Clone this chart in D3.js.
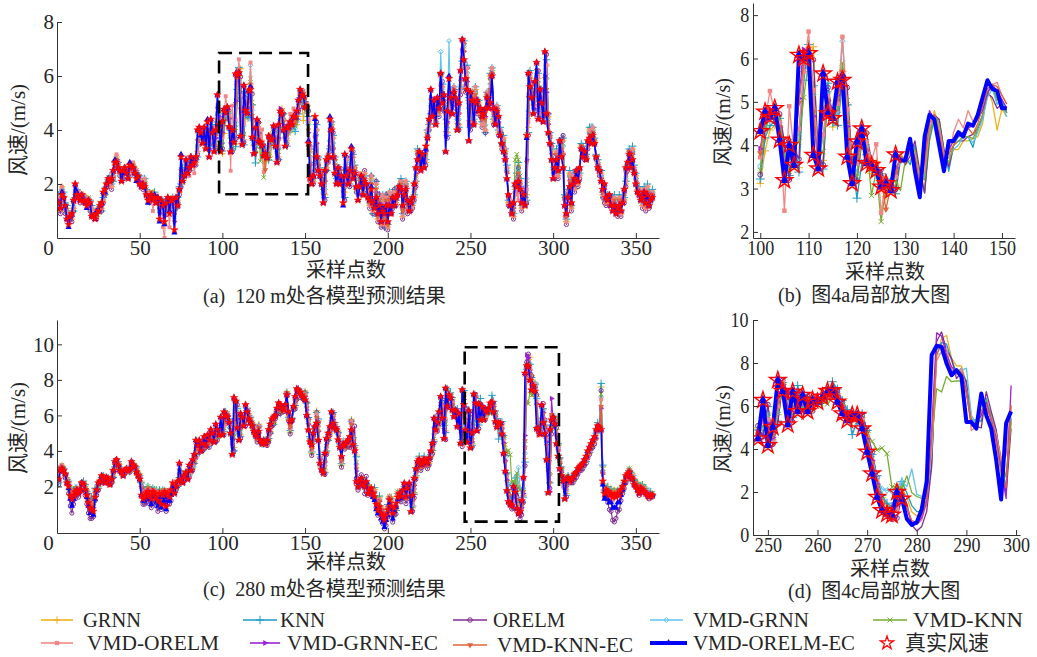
<!DOCTYPE html>
<html>
<head>
<meta charset="utf-8">
<script src="https://cdn.jsdelivr.net/npm/d3@7"></script>
<style>
  body { margin: 0; background: #fff; }
  svg text { font-family: "Liberation Serif", "Times New Roman", "Noto Sans CJK SC", serif; fill: #262626; }
  .sq { transform-box: fill-box; transform-origin: center; transform: scaleX(0.86); }
</style>
</head>
<body>
<script>
// ---- measured wind speed (m/s), samples 1..360 ----
var speed120 = [
1.3,1.1,1.6,1.5,1.2,0.7,0.5,0.8,0.9,1.4,
2.0,1.6,1.5,1.4,1.6,1.4,1.3,1.2,1.4,1.3,
0.8,0.8,0.7,0.9,1.0,1.2,1.3,1.7,1.8,2.0,
2.2,2.1,2.2,2.5,2.8,2.8,2.6,2.5,2.1,2.5,
2.6,2.4,2.2,2.7,2.6,2.6,2.4,2.2,2.3,2.0,
1.9,2.0,1.9,1.6,1.4,1.5,1.6,1.4,1.5,1.3,
1.5,0.7,1.4,1.2,0.6,1.3,1.5,0.9,1.4,1.4,
0.3,1.5,1.2,1.8,3.0,2.1,2.3,2.9,2.4,2.6,
3.0,2.7,2.8,3.0,4.0,4.1,3.9,3.5,4.1,3.3,
4.3,3.0,4.4,3.9,3.2,4.0,5.3,4.2,3.2,4.32,
4.77,4.65,4.85,4.12,3.19,4.0,3.54,6.08,6.0,6.12,
3.77,3.46,5.65,4.73,4.62,5.46,5.5,3.73,3.12,4.08,
4.38,3.58,3.54,3.42,3.04,3.12,2.96,3.78,3.65,3.65,
4.15,3.4,2.8,4.2,4.7,4.6,4.0,3.4,4.1,4.1,
4.3,4.2,4.5,4.45,4.7,5.1,5.5,5.3,5.25,4.85,
4.85,3.5,2.2,2.0,2.3,4.5,3.0,2.5,2.3,2.0,
1.3,2.5,2.9,3.0,4.4,4.0,3.0,2.4,2.0,2.6,
2.0,2.3,1.3,3.1,2.3,2.0,2.5,3.3,2.2,2.4,
1.9,1.4,1.9,2.3,1.6,2.1,2.0,1.5,1.4,1.8,
1.3,1.1,1.5,0.9,1.2,0.6,1.0,0.9,1.2,0.6,
1.2,0.9,1.5,1.2,1.5,1.6,1.9,1.8,1.2,1.6,
1.8,1.4,1.0,1.3,1.5,2.0,2.6,2.9,3.2,2.5,
3.1,2.6,3.4,3.7,4.4,5.5,4.5,5.1,4.2,5.2,
4.8,6.1,5.0,5.3,3.2,4.7,5.9,5.2,4.6,5.4,
5.2,4.0,5.0,6.2,7.35,6.6,5.9,5.5,3.6,5.4,
5.1,4.2,5.0,5.1,4.7,4.8,4.5,4.6,4.8,5.2,
4.8,5.0,6.0,4.8,4.2,4.7,4.5,3.8,3.5,3.2,
2.9,2.2,1.6,1.2,0.9,1.3,2.0,1.9,2.1,1.8,
1.3,1.6,1.2,3.8,6.1,5.6,5.2,4.6,5.8,6.5,
4.4,5.5,5.0,4.3,6.9,4.6,3.9,3.5,2.9,2.2,
2.6,2.9,2.5,3.6,3.0,2.6,1.2,0.9,1.5,1.9,
1.3,2.0,2.2,2.5,2.1,2.6,3.3,3.0,3.2,2.9,
3.6,3.7,3.5,3.8,3.5,3.0,2.6,2.5,2.1,1.8,
2.0,1.5,1.4,1.6,1.2,1.0,1.2,0.9,1.1,1.2,
1.0,1.3,1.8,2.6,2.8,3.1,2.6,2.9,2.4,2.0,
1.7,1.6,1.4,1.5,1.7,1.3,1.6,1.2,1.4,1.5];

var speed280 = [
2.4,2.9,3.0,2.9,2.7,2.2,2.0,1.5,1.3,1.5,
1.7,1.8,1.6,1.8,2.2,2.1,1.8,1.5,1.1,0.8,
0.7,0.6,1.4,1.8,2.2,2.3,2.6,2.5,2.2,2.5,
2.4,2.1,2.4,2.9,3.4,3.5,3.2,2.9,2.8,2.6,
2.9,3.0,2.9,3.0,3.4,3.2,3.1,2.8,2.6,2.4,
1.5,1.3,1.4,1.6,1.7,1.5,1.3,1.7,1.6,1.4,
1.2,1.6,1.0,1.5,1.7,0.9,1.6,1.4,1.8,2.2,
1.6,2.0,2.3,3.3,2.4,2.2,2.6,2.8,2.4,3.2,
2.9,3.5,3.8,4.6,4.3,4.6,4.0,4.4,4.8,4.3,
4.9,4.6,5.2,5.0,4.5,5.5,5.2,4.9,5.9,4.9,
6.2,6.0,5.9,5.6,5.0,3.8,7.0,6.8,5.3,4.6,
6.1,5.9,5.4,6.6,6.2,5.8,5.6,5.4,5.1,4.9,
4.8,5.1,4.6,4.4,4.6,4.4,4.6,5.2,5.5,5.8,
5.9,6.0,6.4,6.7,6.6,6.4,6.3,6.6,7.15,6.2,
5.65,5.75,6.5,7.06,7.5,7.4,7.3,7.15,7.0,6.87,
6.0,5.18,4.5,4.34,5.0,5.37,5.56,4.6,3.3,2.93,
2.74,3.87,4.7,5.0,5.37,6.2,5.56,5.3,5.18,4.62,
4.2,3.68,4.34,4.3,4.5,4.62,4.8,5.18,4.34,4.0,
2.27,1.99,2.3,2.46,2.1,1.99,2.27,1.6,1.8,1.9,
1.6,1.43,1.0,0.68,0.86,0.5,0.3,0.11,0.4,0.68,
1.24,0.9,0.49,0.8,1.05,1.4,1.6,1.43,1.8,2.18,
1.43,1.9,2.18,0.58,1.5,2.46,3.0,3.4,3.5,3.2,
3.3,3.5,3.4,3.3,3.6,4.0,4.43,5.84,5.18,5.6,
6.2,7.06,5.84,4.7,7.53,6.5,7.15,6.97,6.3,5.93,
6.3,5.37,6.1,4.43,7.44,6.6,5.18,4.48,6.27,4.17,
5.02,7.2,6.69,5.13,6.66,5.75,6.5,5.75,6.27,6.19,
6.42,6.69,6.73,6.19,5.65,5.33,5.57,5.57,4.95,3.86,
2.85,1.76,1.14,0.98,0.93,1.99,1.68,0.75,0.47,0.59,
1.2,2.5,8.37,8.8,8.75,7.98,7.43,7.67,7.36,5.26,
5.26,4.95,6.58,5.57,4.95,3.5,1.65,5.2,5.75,5.9,
5.5,4.4,3.7,3.0,2.6,2.3,1.3,2.4,2.5,2.3,
2.4,2.5,2.7,2.8,3.0,3.1,3.2,3.3,3.5,3.7,
4.0,4.2,4.4,4.6,4.8,5.2,5.4,5.3,5.2,2.3,
1.6,1.8,1.7,1.5,1.6,1.4,1.5,1.4,1.6,1.5,
1.8,2.0,2.3,2.6,2.7,2.8,2.5,2.4,2.1,2.0,
1.8,1.6,1.9,1.8,1.7,1.6,1.5,1.4,1.5,1.5];

// ---- model prediction errors (0.1 m/s), samples 1..360 ----
var grnn120 = [
2,-1,3,0,-2,4,3,1,-2,-3,-4,1,2,0,-1,2,1,3,0,-2,2,1,3,-1,1,0,-2,-3,-1,0,
-2,1,-3,-2,-1,2,1,-1,3,-2,-1,2,3,-2,0,1,2,3,-1,2,1,-1,2,1,2,-1,0,3,1,2,
-1,5,-2,1,4,-1,-2,3,-1,0,7,-3,2,-1,-9,4,1,-3,2,0,-1,1,0,-2,-8,-2,0,3,-4,5,
-6,6,-8,2,4,-6,-9,5,6,
-12,-9,-3,-4,3,5,-7,3,-26,-3,-1,25,1,-20,5,-2,-8,2,12,3,-9,-3,7,-2,2,1,-3,1,-7,2,
-1,-5,5,6,-12,-6,2,4,3,-5,-2,-4,-1,-4,-3,-5,-6,-2,-3,-9,0,-2,
8,10,2,-2,-15,10,4,2,3,5,-9,-3,-1,-10,2,7,5,3,-4,5,-2,8,-14,6,3,-4,-7,8,2,-1,
4,4,-3,0,3,-1,1,-2,4,-3,2,5,-2,3,-1,5,-4,3,-2,4,1,-3,5,-2,2,-1,3,-4,-2,2,
-4,3,-2,-3,-5,-6,3,-4,2,-2,4,-6,2,-3,-8,3,-5,2,-3,-2,-1,6,-4,15,-8,-12,-4,7,1,-3,
5,-8,-8,-9,6,-4,8,15,-12,2,1,5,-4,3,-2,-3,-2,-8,1,4,10,2,-5,2,1,-6,2,-1,5,3,
4,-3,1,2,-5,-2,4,6,3,-2,1,2,-22,-20,4,4,5,-9,-6,15,-9,4,6,-22,18,6,3,5,6,-3,
3,-2,-3,6,10,3,-3,2,5,-2,3,-4,-2,-1,-3,1,3,-2,1,-2,3,5,2,1,0,2,-1,3,-2,-6,
-2,1,-3,2,4,3,2,-2,3,-1,2,-4,-6,-2,1,3,4,2,3,1,2,2,-3,1,-2,3,0,1,2];
var knn120 = [
3,1,-2,2,1,5,4,0,1,-4,-5,2,1,1,-2,1,2,2,-1,1,4,2,2,0,1,-1,-3,-2,-2,-1,
-1,2,-2,-4,0,1,2,0,4,-3,0,1,2,-4,1,0,1,2,0,3,2,0,3,2,1,0,-1,2,2,1,
0,6,-3,2,5,-2,-1,4,0,1,9,-4,3,1,-10,5,0,-4,3,-1,0,2,1,-1,-10,-1,1,4,-5,6,
-8,7,-10,3,5,-7,-10,6,8,
-11,-6,-2,-3,5,8,-7,6,-27,-5,2,16,4,-22,7,-1,-10,-1,12,5,-13,-8,2,0,-1,3,1,2,-9,0,
1,-6,6,5,-13,-6,0,6,5,-7,-1,-1,0,-3,-5,-3,-5,-3,1,-3,2,-1,
10,11,3,-1,-17,12,5,3,2,6,-10,-4,0,-11,3,8,6,2,-5,6,-3,9,-16,7,4,-5,-8,9,3,0,
5,3,-4,1,2,0,2,-1,5,-4,3,6,-1,4,0,6,-5,4,-1,5,2,-2,6,-1,3,0,4,-3,-1,3,
-3,4,-1,-2,-4,-5,4,-3,3,-1,5,-5,3,-2,-9,4,-4,3,-2,-1,0,7,-3,16,-9,-13,-3,8,2,-2,
6,-9,-7,-8,7,-3,9,16,-13,3,2,6,-3,4,-1,-2,-1,-9,2,5,11,3,-4,3,2,-5,3,0,6,4,
5,-2,2,3,-4,-1,5,7,4,-1,2,3,-24,-22,6,5,6,-10,-7,17,-10,5,7,-24,20,7,4,6,7,-2,
4,-1,-2,7,11,4,-2,3,6,-1,4,-3,-1,0,-2,2,4,-1,2,-1,4,6,3,2,1,3,0,4,-1,-5,
-1,2,-2,3,5,4,3,-1,4,0,3,-3,-5,-1,2,4,5,3,4,2,3,3,-2,2,-1,4,1,2,3];
var orelm120 = [
1,-2,2,-1,-3,3,2,0,-3,-4,-5,0,1,-1,-2,1,0,2,-1,-3,1,0,2,-2,0,-1,-3,-4,-2,-1,
-3,0,-4,-3,-2,1,0,-2,2,-3,-2,1,2,-3,-1,0,1,2,-2,1,0,-2,1,0,1,-2,-1,2,0,1,
-2,4,-3,0,3,-2,-3,2,-2,-1,6,-4,1,-2,-11,3,0,-4,1,-1,-2,0,-1,-3,-9,-3,-1,2,-5,4,
-7,5,-9,1,3,-7,-11,4,5,
-10,-4,1,-1,6,9,-8,4,-24,-2,0,22,3,-21,6,0,-7,1,16,5,-9,-3,7,1,0,4,-1,2,-8,1,
-1,-4,7,6,-13,-4,1,6,5,-6,-1,-2,-1,-3,-2,-3,-4,-3,-2,-4,1,-1,
12,12,1,-3,-20,13,4,1,2,5,-11,-4,-2,-12,3,9,5,3,-5,5,-3,9,-17,7,3,-6,-9,10,2,-2,
5,4,-4,0,4,-2,1,-3,5,-4,1,6,-3,4,-2,5,-5,4,-3,4,0,-4,6,-3,2,-2,3,-5,-3,2,
-5,3,-3,-4,-6,-7,2,-5,1,-3,3,-7,1,-4,-9,2,-6,1,-4,-3,-12,8,-6,15,-10,-14,-5,6,0,-4,
4,-10,-9,-10,6,-5,8,17,-14,1,0,4,-5,2,-3,-4,-3,-9,0,3,9,1,-6,1,0,-7,1,-2,4,2,
3,-4,0,1,-6,-3,3,5,2,-3,0,1,-25,-23,5,5,6,-11,-7,18,-11,5,7,-25,22,7,3,5,6,-4,
2,-3,-4,5,12,3,-4,1,4,-3,2,-5,-3,-2,-4,0,2,-3,0,-3,2,4,1,0,-1,1,-2,2,-3,-7,
-3,0,-4,1,3,2,1,-3,2,-2,1,-5,-7,-3,0,2,3,1,2,0,1,1,-4,0,-3,2,-1,0,1];
var vmdGrnn120 = [
1,0,2,1,-1,2,2,0,-1,-2,-3,1,1,0,0,1,1,2,0,-1,2,1,2,0,0,0,-1,-2,-1,0,
-1,1,-2,-2,0,1,1,0,2,-1,0,1,2,-1,0,1,1,2,0,1,1,0,2,1,1,0,0,2,1,1,
0,3,-1,1,3,0,-1,2,0,0,5,-2,1,0,-7,3,1,-2,1,0,0,1,0,-1,-6,-1,0,2,-3,3,
-4,4,-6,1,3,-4,-7,4,5,
-8,-3,0,-2,4,6,-5,3,-18,-3,-3,14,2,-15,5,0,-7,9,10,4,-7,-2,4,-1,0,2,-1,1,-5,0,
0,-3,4,4,-9,-3,0,4,3,-4,-2,-3,0,-3,-4,-4,-5,-4,0,-3,1,-2,
7,8,1,-1,-12,8,3,2,2,4,-7,-2,0,-8,2,5,4,2,-3,4,-1,6,-10,5,2,-3,-5,6,1,0,
3,3,-2,0,2,-1,1,-1,3,-2,2,4,-1,2,0,4,-3,2,-1,3,1,-2,4,-1,2,0,2,-3,-1,2,
-2,2,-1,-2,-3,-4,2,-3,2,-1,3,-4,2,-2,-6,2,-3,1,-2,-1,8,5,-3,12,-6,14,-2,5,1,-2,
4,-6,-6,-7,5,-3,6,12,-9,2,1,4,-2,2,-1,-2,-1,-6,1,3,7,2,-3,2,1,-4,2,-1,4,2,
3,-2,1,2,-3,-1,3,4,2,-1,1,2,-16,-14,3,3,4,-7,-5,12,-7,3,5,-16,13,5,3,4,4,-2,
2,-1,-2,4,8,2,-2,2,4,-1,3,-2,-1,0,-2,1,2,-1,1,-1,2,4,2,1,0,2,-1,2,-1,-4,
-1,1,-2,1,3,2,2,-1,2,0,2,-3,-4,-1,1,2,3,2,2,1,2,2,-2,1,-1,2,0,1,2];
var vmdKnn120 = [
0,1,2,-1,-1,3,2,1,0,-2,-3,0,2,1,-1,1,2,2,1,-1,1,2,2,-1,1,1,-1,-2,0,1,
-1,0,-2,-3,0,2,1,-1,2,-2,-1,1,3,-2,1,1,1,3,-1,1,2,-1,2,2,1,1,1,3,1,2,
-1,4,-2,2,3,0,-1,3,0,1,5,-3,2,-1,-7,3,2,-2,2,1,0,1,1,-1,-6,-2,1,2,-3,3,
-5,4,-6,2,3,-5,-7,4,5,
-9,-4,0,-2,5,6,-6,4,-20,-9,-2,15,2,-18,4,0,-6,4,13,4,-8,-2,5,-7,0,-8,-1,2,-6,-7,
0,-3,5,5,-10,-4,1,5,4,-5,-1,-2,0,-3,-3,-3,-4,-3,1,-2,1,-1,
8,9,2,-1,-13,9,3,2,3,4,-8,-2,0,-9,2,6,4,3,-3,4,-2,7,-12,5,3,-3,-6,7,2,-1,
4,3,-2,1,2,0,1,-1,3,-2,2,4,-1,3,0,4,-3,3,-1,3,2,-1,4,-1,2,0,3,-2,-1,2,
-2,3,-1,-2,-3,-4,3,-2,2,-1,4,-4,2,-1,-6,3,-3,2,-2,-1,-1,5,-3,11,-7,-10,-3,5,1,-2,
4,-7,-6,-7,5,-3,7,13,-10,2,1,4,-3,3,-1,-2,-1,-7,1,3,8,2,-3,2,1,-4,2,-1,4,2,
3,-2,1,2,-4,9,12,8,5,-1,1,2,-18,-16,4,4,4,-8,-5,13,-7,4,5,-18,14,5,3,4,5,-2,
3,-1,-2,4,9,3,-2,2,4,-1,3,-3,-1,0,-2,1,3,-1,1,-1,3,4,2,1,0,2,-1,3,-1,-4,
-1,1,-2,2,3,2,2,-1,3,0,2,-3,-4,-1,1,3,3,2,3,1,2,2,-2,1,-1,3,0,1,2];
var vmdOrelm120 = [
2,1,3,-1,-1,3,3,1,-1,-3,-3,2,2,1,-2,2,1,3,-1,-2,3,1,3,-2,1,0,-2,-3,0,0,
-2,1,-3,-2,-1,3,2,-1,3,-2,-2,2,3,-3,0,2,2,3,-2,2,2,-1,3,1,2,-2,0,-4,1,2,
-1,5,-2,-8,-6,-1,-2,-5,-1,1,6,-3,2,-1,-9,4,2,-3,2,-3,-1,2,-4,-2,-8,-2,1,3,-4,5,
-6,6,-8,2,5,-6,-10,5,7,
-6,-2,6,-1,4,-7,9,3,-17,-3,5,15,2,-14,4,1,-5,10,11,3,-5,-2,5,1,6,-6,1,2,-5,1,
0,-3,4,4,-8,-3,1,4,4,-4,2,3,2,3,1,-1,-3,-2,1,2,3,1,
9,11,3,-2,-14,10,5,2,3,6,-8,-3,1,-9,3,7,6,3,-4,6,-2,8,-12,6,4,-4,-6,8,2,-1,
4,5,-3,1,3,-1,2,-2,5,-3,3,5,-2,3,-1,6,-4,3,-2,5,1,-3,5,-2,3,-1,3,-4,-2,3,
-4,3,-2,-3,-5,-5,3,-4,2,-2,5,-5,3,-3,-7,3,-5,2,-3,-2,-1,6,-3,14,-8,-11,-3,7,2,-3,
5,-8,-7,-8,7,-3,8,15,-11,3,2,6,-3,3,-2,-3,-2,-8,2,4,10,3,-4,2,2,-5,2,-1,5,4,
4,-3,2,3,-5,-2,-3,-7,3,-2,2,2,-20,-18,5,5,6,-9,-6,16,-9,5,6,-20,18,7,4,5,6,-3,
3,-2,-3,6,10,-4,-3,2,5,-2,3,-4,-2,-1,-3,1,3,-2,2,-2,3,5,3,1,0,2,-1,3,-2,-5,
-2,1,-3,2,4,3,2,-2,3,-1,2,-4,-5,-2,1,3,4,2,3,1,2,2,-3,1,-2,3,0,1,2];
var vmdGrnnEc120 = [
1,0,1,0,-1,1,1,0,-1,-1,-2,0,1,0,0,1,0,1,0,-1,1,0,1,0,0,0,-1,-1,0,0,
-1,0,-1,-1,0,1,0,0,1,-1,0,1,1,-1,0,0,1,1,0,1,0,0,1,0,1,0,0,1,0,1,
0,2,-1,1,2,0,-1,1,0,0,3,-1,1,0,-5,2,0,-1,1,0,0,1,0,-1,-4,-1,0,1,-2,2,
-3,3,-4,1,2,-3,-4,3,3,
-4,-2,0,-1,3,4,-3,2,-10,2,0,9,1,-9,3,2,-3,1,7,2,-4,-1,3,0,0,1,0,1,-3,0,
0,-2,3,2,-5,1,0,2,2,-2,0,-1,1,-1,0,-1,-3,-3,1,0,2,0,
4,5,1,0,-7,5,2,1,1,2,-4,-1,0,-4,1,3,2,1,-2,2,-1,3,-6,3,1,-2,-3,3,1,0,
2,1,-1,0,1,0,1,0,2,-1,1,2,0,1,0,2,-2,1,0,2,1,-1,2,0,1,0,1,-2,-1,1,
-1,1,0,-1,-2,-2,1,-1,1,0,2,-2,1,-1,-3,1,-2,1,-1,0,-4,3,-2,6,-4,-5,-1,3,1,-1,
2,-4,-3,-4,3,-2,3,6,-5,1,1,2,-1,1,0,-1,0,-3,1,1,4,1,-2,1,1,-2,1,0,2,1,
2,-1,1,1,-2,0,1,2,1,0,1,1,-9,-8,2,2,2,-4,-3,7,-4,2,3,-9,8,3,2,2,2,-1,
1,0,-1,2,5,1,-1,1,2,0,1,-1,0,0,-1,1,1,0,1,0,1,2,1,0,0,1,0,1,-1,-2,
0,1,-1,1,2,1,1,0,1,0,1,-1,-2,0,1,1,2,1,1,1,1,1,-1,0,0,1,0,0,1];
var vmdKnnEc120 = [
0,1,1,0,0,1,1,1,0,-1,-1,1,1,0,-1,0,1,1,0,0,1,1,1,-1,0,1,0,-1,0,0,
0,1,-1,-1,-1,1,1,-1,1,-1,-1,0,1,-1,1,1,0,1,-1,0,1,0,1,1,0,0,1,1,0,1,
-1,2,-1,0,2,-1,0,2,-1,1,3,-2,1,-1,-5,2,1,-2,1,1,-1,0,1,-1,-4,-1,1,1,-2,2,
-3,2,-4,2,2,-2,-5,2,3,
-5,-1,1,0,3,3,-3,2,-11,-1,1,10,0,-8,3,1,-4,2,8,3,-4,-2,3,0,1,2,-6,1,-4,1,
0,-2,3,3,-6,-2,1,3,3,-3,-1,0,0,-1,-2,-2,-2,-2,1,1,3,1,
5,5,1,-1,-8,5,2,1,1,3,-4,-2,1,-5,1,3,3,1,-2,3,-1,4,-6,3,2,-2,-3,4,1,-1,
2,2,-1,0,1,-1,1,-1,2,-1,1,3,-1,2,0,2,-2,2,-1,2,0,-1,2,-1,1,-1,2,-2,-1,1,
-2,2,-1,-1,-2,-3,2,-2,1,-1,2,-3,1,-2,-4,2,-2,1,-2,-1,-5,3,-2,7,-5,-6,-2,4,1,-1,
2,-4,-4,-4,3,-1,4,7,-6,1,1,3,-1,2,-1,-1,-1,-4,1,2,5,1,-2,1,1,-3,1,0,2,2,
2,-1,1,1,-2,-1,2,3,2,0,1,1,-10,-9,3,2,3,-5,-3,8,-5,2,3,-10,9,3,2,2,3,-1,
2,0,-1,3,5,2,-1,1,2,-1,2,-1,-1,0,-1,1,1,-1,1,-1,1,3,1,1,0,1,0,1,-1,-2,
-1,1,-1,1,2,2,1,0,2,0,1,-2,-2,-1,1,2,2,1,1,1,1,1,-1,0,-1,1,0,0,1];
var vmdOrelmEc120 = [
0,0,1,0,0,0,-1,0,0,0,0,1,0,0,0,0,0,-1,0,0,0,0,0,1,0,0,0,0,-1,0,
0,0,0,0,1,0,0,0,0,-1,0,0,0,1,0,0,0,-1,0,0,0,0,0,0,-1,0,0,0,1,0,
0,-1,0,0,-1,0,0,1,0,0,-1,0,0,0,1,0,0,0,0,0,0,0,1,0,0,0,-1,0,0,0,
1,0,0,0,0,0,0,0,1,
0,0,0,0,0,0,0,0,0,0,0,0,0,0,0,0,0,1,0,0,0,0,0,0,0,0,0,0,0,0,
0,0,0,0,0,0,0,0,0,0,0,0,0,0,0,0,0,0,0,0,0,0,
1,0,0,0,-1,0,0,0,0,0,0,0,0,1,0,0,0,0,0,0,0,-1,0,0,0,0,1,0,0,0,
0,0,0,0,0,0,0,0,1,0,0,0,0,0,0,1,0,0,0,0,0,0,0,0,0,0,0,0,0,0,
0,0,0,0,0,0,0,0,0,0,0,-1,0,0,0,0,0,0,0,0,0,0,0,0,0,1,0,0,0,0,
0,0,0,0,0,0,0,0,0,0,0,0,0,0,0,0,0,0,0,0,0,0,0,0,0,0,0,0,0,0,
0,0,0,0,0,0,0,0,0,0,0,0,-1,0,0,0,0,0,0,0,0,0,0,0,0,0,0,0,0,0,
0,0,0,0,0,0,0,0,0,0,0,0,0,0,0,0,0,0,0,0,0,0,0,0,0,0,0,0,0,0,
0,0,0,0,0,0,0,0,0,0,0,0,0,0,0,0,0,0,0,0,0,0,0,0,0,0,0,0,0];

var grnn280 = [
-1,1,2,0,-1,3,2,4,4,2,1,0,1,0,-1,1,2,3,4,5,6,5,4,0,-2,-1,-2,0,1,-1,
0,2,-1,-3,-4,-1,1,2,1,2,-1,-1,0,-2,-3,0,1,2,2,3,8,5,3,2,2,3,4,1,2,3,
4,1,5,2,1,6,0,2,-1,-3,3,-1,-2,-9,5,2,-2,-2,3,-6,1,-5,-4,-9,-3,-6,1,-3,-6,0,
-5,-2,-7,-4,2,-9,-5,1,-9,2,-12,1,2,1,4,10,-28,-1,12,5,-12,-2,4,-10,1,3,2,2,2,1,
-2,4,0,1,-1,1,-2,-6,-4,-3,-3,-1,-1,-5,-4,-1,0,-1,2,-4,-6,0,-1,-6,-5,0,0,0,0,5,
8,6,2,-5,-3,-1,7,11,4,2,2,-10,-8,-3,-4,-7,5,2,1,5,3,-5,1,-1,-1,-3,-5,6,3,2,
15,3,-1,-1,3,2,-2,5,1,0,2,4,3,4,5,3,3,2,-3,2,2,5,-1,-2,-3,3,-1,-1,-2,-3,
-2,-5,-3,12,-7,-8,-5,-2,1,-2,-1,1,0,-2,-3,-3,-5,-12,6,-3,-6,-7,10,9,-24,9,-5,2,6,4,
-3,8,-6,15,-24,7,12,
5,-14,15,-6,-16,3,12,-10,8,-6,6,-4,0,-3,-4,-1,4,4,2,-3,-1,5,9,9,10,6,4,3,-6,5,
10,6,3,-2,-10,-48,-5,4,13,8,2,5,18,3,2,-12,6,7,12,20,-25,-4,
-3,3,8,6,6,4,3,9,-8,0,1,0,-1,-1,-1,-1,0,-1,-1,-1,-2,-2,-2,-1,-2,-2,-3,1,1,24,
8,1,2,2,1,3,2,3,1,2,1,0,-1,-2,-2,-1,2,2,3,2,3,3,1,2,2,3,2,2,1,1,1];
var knn280 = [
-2,2,1,1,0,2,3,3,5,3,2,1,0,1,0,2,3,2,5,4,7,6,5,-1,-3,0,-1,1,2,0,
1,1,-2,-4,-3,0,2,1,2,1,0,-2,1,-1,-4,1,0,3,1,2,7,6,4,1,3,2,5,2,1,4,
3,2,4,3,0,5,1,3,0,-4,2,0,-3,-8,4,3,-1,-3,2,-5,2,-4,-5,-8,-2,-7,2,-2,-5,1,
-4,-3,-6,-5,3,-8,-4,2,-8,3,-11,2,1,2,3,11,-30,0,11,6,-13,-1,5,-11,2,2,3,1,3,0,
-1,3,1,0,-2,2,-1,-5,-5,-2,-4,0,-2,-4,-5,0,1,-2,1,-3,-5,1,-2,-5,-6,1,-1,1,-1,4,
7,7,3,-4,-4,0,6,12,5,1,3,-11,-7,-4,-3,-8,6,3,2,4,2,-4,2,0,-2,-2,-4,5,4,3,
14,4,0,-2,2,3,-1,4,2,-1,1,5,2,3,6,2,4,1,-2,3,1,4,-2,-1,-4,2,0,-2,-1,-2,
-1,-4,-2,13,-6,-9,-4,-3,2,-1,0,2,1,-1,-2,-2,-4,-13,7,-2,-5,-8,11,10,-25,10,-4,3,7,5,
-2,10,-7,16,-28,8,13,
4,-16,18,-7,-19,4,14,-12,12,-5,7,-3,1,-2,-3,4,6,6,5,-9,-3,7,10,9,10,7,5,4,-5,8,
12,9,5,-1,-11,-50,-2,2,9,7,-1,4,17,1,4,-13,8,5,13,18,-30,-3,
-4,4,10,7,6,5,2,10,-9,1,0,1,-2,0,-2,-1,-1,0,-2,-1,-3,-1,-3,-2,-3,-1,-2,2,0,26,
9,2,1,3,2,2,3,2,2,1,2,1,-2,-1,-3,-2,1,3,2,3,2,4,2,1,3,2,3,1,2,2,0];
var orelm280 = [
-3,0,1,-1,-2,2,-4,-6,-8,-5,-4,-3,-2,-1,-2,0,-3,-5,-6,-6,-5,-3,-2,-3,-4,-1,-3,-1,0,-2,
-1,1,-2,-4,-5,-1,0,1,0,1,-1,-2,0,-2,-4,-1,0,1,1,2,5,-3,-4,-5,-4,-5,-5,-6,-4,-5,
-6,-5,-3,-6,-5,-3,-6,-4,-6,-5,1,-2,-3,-10,3,1,-3,-3,1,-7,0,-6,-5,-10,-4,-7,0,-4,-7,-1,
-6,-4,-8,-5,1,-10,-6,0,-10,1,-13,0,1,0,3,9,-30,-2,13,5,-14,-3,3,-12,0,2,1,1,1,0,
-3,3,-1,0,-2,0,-3,-7,-5,-4,-4,-2,-2,-6,-5,-2,-1,-2,1,-5,-7,-1,-2,-7,-6,-1,-1,-1,-1,4,
7,6,1,-6,-4,-2,6,10,3,1,1,-12,-9,-4,-5,-8,5,2,0,4,2,-6,0,-2,-2,-4,-6,5,2,14,
2,-2,-3,2,1,-4,3,-1,-2,-2,-2,-1,-2,-3,-4,-4,-4,-5,-6,-4,-3,-1,-5,-4,-6,-2,-3,-3,-4,-5,
-4,-6,-4,11,-9,-11,-6,-3,0,-3,-2,0,-1,-3,-4,-4,-6,-14,5,-5,-7,-9,9,8,-29,8,-7,1,5,3,
-4,8,-8,16,-32,6,12,
6,-17,19,-8,-20,5,15,-14,9,-7,7,-5,1,-2,-3,0,5,5,3,-2,0,6,10,10,9,4,0,-2,-12,1,
7,0,-4,-8,-14,-52,2,7,6,8,-4,2,19,-2,1,-16,11,8,14,16,-33,-8,
-5,2,9,5,5,3,1,7,-10,-2,-1,-2,-3,-3,-3,-3,-2,-3,-3,-3,-4,-4,-4,-3,-4,-4,-5,-1,-1,22,
5,-2,-4,-6,-8,-10,-13,-15,-12,-10,-8,-6,-4,-4,-4,-3,0,0,1,0,1,1,-1,0,0,1,0,0,-1,-1,-1];
var vmdGrnn280 = [
-1,1,1,0,0,2,2,3,3,2,1,0,1,0,0,1,2,2,3,3,4,4,3,0,-2,0,-1,0,1,0,
0,1,-1,-2,-3,0,1,1,1,1,0,-1,0,-1,-2,0,1,2,1,2,6,4,3,2,2,2,3,1,2,2,
3,1,3,2,1,4,1,2,0,-2,2,0,-2,-6,4,2,-1,-1,2,-4,1,-3,-3,-6,-2,-4,1,-2,-4,0,
-3,-2,-5,-3,2,-6,-3,1,-6,2,-8,1,1,1,3,7,-20,-1,8,4,-9,-1,3,-7,1,2,2,1,2,1,
-1,3,0,1,-1,1,-1,-4,-3,-2,-2,-1,-1,-3,-3,0,0,-1,1,-2,-4,0,-1,-4,-3,0,0,0,0,3,
5,5,2,-3,-2,-1,5,8,3,1,2,-7,-5,-2,-3,-5,4,2,1,3,2,-3,1,-1,-1,-2,-3,4,2,2,
10,2,0,-1,2,1,-1,3,1,0,1,3,2,3,4,2,3,1,-2,2,1,3,-1,-1,-2,2,0,-1,-1,-2,
-1,-3,-2,9,-5,-6,-3,-1,1,-1,0,1,0,-1,-2,-2,-3,-9,4,-2,-4,-5,7,7,-18,7,-3,2,4,3,
-2,6,-5,11,-19,5,9,
4,-12,14,-6,-15,3,10,-10,7,-5,5,-3,1,-1,-2,0,3,4,2,-1,0,4,8,8,9,10,11,11,2,8,
15,26,13,6,-6,-45,-4,-3,4,3,0,3,25,3,2,-10,7,4,10,14,-25,-3,
-2,2,6,4,4,3,2,7,-6,0,1,0,-1,0,-1,0,0,-1,-1,0,-1,-1,-2,-1,-1,-1,-2,1,1,18,
6,1,1,2,1,2,2,2,1,1,1,0,-1,-1,-2,-1,1,2,2,2,2,3,1,1,2,2,2,1,1,1,1];
var vmdKnn280 = [
0,1,2,1,0,2,3,3,4,3,2,1,1,1,0,1,2,3,4,4,5,5,4,1,-1,0,-1,1,1,0,
1,1,-1,-2,-3,-1,1,2,1,1,0,-1,1,-1,-2,0,1,2,2,2,6,5,3,2,3,2,4,2,2,3,
3,2,4,3,1,5,1,3,0,-2,2,0,-2,-7,4,3,-1,-2,2,-4,1,-4,-4,-7,-2,-5,1,-2,-5,1,
-4,-2,-6,-4,2,-7,-4,1,-7,2,-9,1,2,1,3,8,-22,0,9,4,-10,-1,4,-8,1,3,2,2,2,1,
-1,3,0,1,-1,1,-1,-5,-3,-2,-3,-1,-1,-4,-4,-1,0,-1,1,-3,-5,0,-1,-5,-4,0,0,0,0,4,
6,5,2,-4,-3,-1,5,9,4,2,2,-8,-6,-3,-3,-6,4,2,1,4,2,-4,1,-1,-1,-2,-4,5,3,3,
11,3,0,-1,2,2,-1,4,1,0,2,4,3,4,5,3,3,2,-2,2,2,4,-1,-1,-3,3,-1,-1,-1,-2,
-1,-4,-2,10,-6,-7,-4,-2,1,-1,0,1,0,-1,-2,-2,-4,-10,5,-3,-5,-6,8,8,-20,8,-4,2,5,3,
-2,7,-6,12,-22,6,10,
3,-12,13,-7,-14,2,9,-10,5,-6,4,-4,0,-2,-6,-3,2,4,1,-2,-3,4,9,15,22,29,28,13,3,5,
20,15,12,5,-8,-40,-20,-21,-6,-3,-5,-2,15,0,2,-10,7,4,12,16,-25,-5,
-2,3,7,5,5,3,2,8,-6,1,1,1,-1,0,-1,0,0,-1,-1,-1,-2,-1,-2,-1,-2,-2,-2,1,1,20,
7,1,2,2,1,2,2,3,1,2,1,1,-1,-1,-2,-1,2,2,2,2,3,3,1,2,2,2,2,2,1,1,1];
var vmdOrelm280 = [
1,2,2,0,-1,2,2,2,3,1,1,0,1,1,-1,1,1,2,3,3,4,3,2,0,-1,0,-1,1,1,-1,
1,1,-1,-2,-2,0,1,1,1,1,-1,-1,1,-1,-2,1,1,2,1,2,5,4,2,2,1,3,3,1,2,2,
3,1,3,2,1,4,1,2,0,-2,2,-1,-1,-6,3,2,-1,-2,2,-4,1,-3,-3,-6,-2,-4,1,-2,-4,1,
-3,-2,-5,-3,2,-6,-3,1,-6,2,-8,1,2,1,3,7,-18,1,8,4,-8,-1,3,-7,1,2,2,1,2,1,
-1,3,0,1,-1,1,-1,-4,-3,-2,-2,0,-1,-3,-3,0,1,0,1,-2,-4,0,-1,-4,-4,0,0,1,0,3,
5,5,2,-3,-2,0,5,8,3,2,1,-7,-5,-2,-3,-5,4,2,1,3,2,-3,1,-1,-1,-2,-3,5,3,2,
9,3,0,-1,2,1,-1,3,1,0,2,3,2,3,4,3,2,2,-1,2,2,3,-1,-1,-2,2,0,-1,-1,-2,
-1,-3,-2,9,-5,-6,-3,-1,1,-1,0,1,0,-1,-2,-2,-3,-9,5,-2,-4,-5,7,6,-17,7,-3,2,4,3,
-2,6,-5,10,-18,5,8,
3,-10,12,-6,-12,4,9,-9,6,-4,5,-3,1,-1,-2,1,3,3,2,-2,0,4,7,6,7,4,1,1,-8,2,
6,1,-1,-5,-10,-42,-7,-2,7,2,-2,4,15,-4,1,-8,3,5,12,18,-15,2,
-2,2,6,4,4,2,-3,6,-6,0,0,0,-1,-1,-1,-1,0,-1,-1,-1,-2,-2,-2,-1,-2,-2,-2,0,1,17,
5,-2,-3,-3,-2,-1,-2,-1,0,0,0,0,-1,-1,-2,-1,1,1,2,1,2,2,1,1,1,2,1,1,1,1,0];
var vmdGrnnEc280 = [
0,1,1,0,0,1,1,2,2,1,1,0,0,0,0,1,1,1,2,2,3,2,2,0,-1,0,-1,0,1,0,
0,1,-1,-1,-2,0,0,1,0,1,0,-1,0,-1,-1,0,1,1,1,1,4,3,2,1,1,1,2,1,1,2,
2,1,2,1,0,3,0,1,0,-1,1,0,-1,-4,2,1,-1,-1,1,-3,1,-2,-2,-4,-1,-3,1,-1,-3,0,
-2,-1,-3,-2,1,-4,-2,1,-4,1,-5,1,1,0,2,5,-13,0,5,3,-6,-1,2,-5,1,1,1,1,1,0,
-1,2,0,0,-1,1,-1,-3,-2,-1,-2,0,-1,-2,-2,0,0,-1,1,-2,-3,0,-1,-3,-2,0,0,0,0,2,
3,3,1,-2,-2,0,3,5,2,1,1,-5,-3,-2,-2,-3,2,1,1,2,1,-2,1,0,-1,-1,-2,3,2,1,
6,2,0,-1,1,1,-1,2,1,0,1,2,1,2,3,2,2,1,-1,1,1,2,-1,-1,-2,1,0,-1,-1,-1,
-1,-2,-1,6,-3,-4,-2,-1,0,-1,0,1,0,-1,-1,-1,-2,-6,3,-1,-2,-4,5,4,-12,4,-2,1,3,2,
-1,4,-3,7,-12,3,6,
3,-8,10,-5,-10,3,8,-7,5,-4,4,-2,1,-1,-2,0,3,3,2,-1,0,3,6,6,6,3,1,0,-6,2,
5,1,-1,-4,-9,-35,6,5,4,4,-1,2,14,-1,2,-10,6,4,10,14,-35,12,
-1,1,4,3,3,2,1,5,-4,0,0,0,-1,0,-1,0,0,-1,0,0,-1,-1,-1,-1,-1,-1,-1,0,1,12,
4,0,1,1,1,1,1,1,1,1,0,0,-1,-1,-1,-1,1,1,1,1,1,2,1,1,1,1,1,1,1,1,0];
var vmdKnnEc280 = [
1,1,1,0,-1,1,2,2,2,1,1,1,0,0,0,1,1,2,2,2,3,3,2,0,-1,-1,-1,0,1,0,
1,0,-1,-2,-2,0,1,1,0,1,0,-1,0,-1,-2,0,0,1,1,1,4,3,2,1,2,1,2,1,1,2,
2,1,2,2,1,3,1,2,0,-1,1,0,-1,-4,3,1,0,-1,1,-3,0,-2,-2,-5,-1,-3,0,-1,-3,0,
-2,-1,-3,-2,1,-4,-2,0,-4,1,-6,0,1,1,2,5,-14,0,6,3,-6,-1,2,-5,0,1,1,1,1,1,
-1,2,0,1,-1,0,-1,-3,-2,-1,-2,-1,-1,-2,-3,0,0,-1,1,-2,-3,0,-1,-3,-3,0,0,0,-1,2,
4,3,1,-2,-2,-1,3,5,2,1,1,-5,-4,-2,-2,-4,3,1,0,2,1,-2,1,-1,0,-1,-2,3,2,1,
7,2,0,-1,1,1,-1,2,1,0,1,2,1,2,3,2,2,1,-1,1,1,2,-1,0,-2,1,0,-1,-1,-1,
-1,-2,-1,7,-3,-4,-2,-1,0,-1,0,1,0,-1,-1,-1,-2,-6,3,-1,-3,-4,5,5,-13,5,-2,1,3,2,
-1,4,-3,8,-13,4,6,
2,-8,9,-4,-10,3,7,-7,4,-3,4,-2,0,-1,-2,0,2,3,1,-1,0,3,5,5,5,3,2,1,-5,2,
5,2,0,-3,-8,-38,-4,1,3,2,0,2,13,0,2,-8,5,4,8,12,-30,3,
-1,2,4,3,3,2,1,5,-4,0,0,0,-1,0,-1,0,0,0,-1,0,-1,-1,-1,-1,-1,-1,-1,0,0,13,
4,1,1,1,1,1,1,2,1,1,1,0,-1,-1,-1,-1,1,1,1,1,2,2,1,1,1,1,1,1,1,1,0];
var vmdOrelmEc280 = [
0,0,0,0,0,0,-1,-2,-4,-2,-1,0,0,0,0,0,0,-1,-2,-3,-2,-2,-1,0,0,0,0,0,0,0,
0,0,0,0,0,0,0,0,0,0,0,0,0,0,0,0,0,0,0,0,0,-1,-2,-2,-1,-2,-3,-2,-2,-3,
-3,-2,-2,-4,-3,-2,-4,-2,-3,-2,0,0,0,0,0,0,0,0,0,0,0,0,0,0,0,0,0,0,0,0,
0,0,0,0,0,0,0,0,0,0,0,0,0,0,0,0,0,0,0,0,0,0,0,0,0,0,0,0,0,0,
0,0,0,0,0,0,0,0,0,0,0,0,0,0,0,0,0,0,0,0,0,0,0,0,0,0,0,0,0,0,
0,0,0,0,0,0,0,0,0,0,0,0,0,0,0,0,0,0,0,0,0,0,0,0,0,0,0,0,0,0,
0,0,0,0,0,0,0,0,-1,-2,-2,-2,-3,-2,-3,-3,-3,-4,-3,-3,-2,-2,-3,-2,-2,-1,-1,-1,0,0,
0,0,0,0,0,0,0,0,0,0,0,0,0,0,0,0,0,0,0,0,0,0,0,0,0,0,0,0,0,0,
0,0,0,0,0,0,0,
0,0,0,0,0,0,0,0,0,0,0,0,0,0,0,0,0,0,0,0,0,0,0,0,0,0,0,0,0,0,
0,0,0,0,0,0,0,0,0,0,0,0,0,0,0,0,0,0,0,0,0,0,
0,0,0,0,0,0,0,0,0,0,0,0,0,0,0,0,0,0,0,0,0,0,0,0,0,0,0,0,0,0,
-2,-3,-3,-4,-4,-5,-6,-7,-6,-5,-4,-3,-2,-1,0,0,0,0,0,0,0,0,0,0,0,0,0,0,0,0,0];

// ---- series, ticks, annotations ----
var modelNames = ["GRNN","KNN","ORELM","VMD-GRNN","VMD-KNN","VMD-ORELM","VMD-GRNN-EC","VMD-KNN-EC","VMD-ORELM-EC"];
var modelColors = ["#EDB120","#1E9BC6","#7E2F8E","#5FC4EC","#77AC30","#F28686","#9B22D6","#E0623A","#0000FF"];
var trueName = "真实风速";
var err120 = [grnn120, knn120, orelm120, vmdGrnn120, vmdKnn120, vmdOrelm120, vmdGrnnEc120, vmdKnnEc120, vmdOrelmEc120];
var err280 = [grnn280, knn280, orelm280, vmdGrnn280, vmdKnn280, vmdOrelm280, vmdGrnnEc280, vmdKnnEc280, vmdOrelmEc280];

var xTicksMain = [0,50,100,150,200,250,300,350];
var yTicksA = [2,4,6,8];
var xTicksB = [100,110,120,130,140,150];
var yTicksB = [2,3,4,5,6,7];
var yTickLabelsB = ["2","3","4","5","6","8"];
var yTicksC = [2,4,6,8,10];
var xTicksD = [250,260,270,280,290,300];
var yTicksD = [0,2,4,6,8,10];
var boxA = [98, 151.8, 1.62, 6.85];
var boxC = [246.5, 303.5, 0.02, 9.84];

var W = 1037, H = 657;
var svg = d3.select("body").append("svg").attr("width", W).attr("height", H);

var symPlus = d3.symbolPlus || d3.symbolCross;
var symTimes = d3.symbolTimes || d3.symbolCross;
var symCircle2 = d3.symbolCircle2 || d3.symbolCircle;
var symDiamond2 = d3.symbolDiamond2 || d3.symbolDiamond;
var markers = [
  {type: symPlus, fill: false, k: 1.1, rot: 0},
  {type: symPlus, fill: false, k: 1.4, rot: 0},
  {type: symCircle2, fill: false, k: 0.9, rot: 0},
  {type: symDiamond2, fill: false, k: 1.0, rot: 0},
  {type: symTimes, fill: false, k: 1.0, rot: 0},
  {type: d3.symbolSquare, fill: true, k: 1.0, rot: 0},
  {type: d3.symbolTriangle, fill: true, k: 0.9, rot: 90},
  {type: d3.symbolTriangle, fill: true, k: 0.9, rot: 180},
  {type: d3.symbolTriangle, fill: true, k: 1.1, rot: 0}
];

function predicted(truth, err) {
  return truth.map(function(v, i) { return err[i] === undefined ? null : v + err[i] / 10; });
}

var panels = [
  {id: "a", truth: speed120, errs: err120, xd: [0, 364], xr: [57, 659], yd: [0, 8], yr: [238, 22],
   xt: xTicksMain, yt: yTicksA, from: 1, to: 360, markTo: 360, zoom: false, box: boxA},
  {id: "b", truth: speed120, errs: err120, xd: [98.5, 152.7], xr: [753, 1015], yd: [1.86, 7.28], yr: [238, 3],
   xt: xTicksB, yt: yTicksB, ytl: yTickLabelsB, from: 100, to: 151, markTo: 128, zoom: true},
  {id: "c", truth: speed280, errs: err280, xd: [0, 364], xr: [57, 659], yd: [-0.62, 11.37], yr: [533, 320],
   xt: xTicksMain, yt: yTicksC, from: 1, to: 360, markTo: 360, zoom: false, box: boxC},
  {id: "d", truth: speed280, errs: err280, xd: [247, 300.8], xr: [753, 1020], yd: [0, 10], yr: [535, 320],
   xt: xTicksD, yt: yTicksD, from: 248, to: 299, markTo: 277, zoom: true}
];

panels.forEach(function(p) {
  var x = d3.scaleLinear().domain(p.xd).range(p.xr);
  var y = d3.scaleLinear().domain(p.yd).range(p.yr);
  var g = svg.append("g").attr("class", "panel-" + p.id);

  svg.append("clipPath").attr("id", "clip-" + p.id).append("rect")
      .attr("x", p.xr[0]).attr("y", p.yr[1] - 12)
      .attr("width", p.xr[1] - p.xr[0] + 4).attr("height", p.yr[0] - p.yr[1] + 12);
  var plot = g.append("g").attr("clip-path", "url(#clip-" + p.id + ")");

  var samples = d3.range(p.from, p.to + 1);
  var line = d3.line()
      .defined(function(d) { return d[1] != null; })
      .x(function(d) { return x(d[0]); })
      .y(function(d) { return y(d[1]); });

  var lw = p.zoom ? 1.3 : 1.1;
  var blueW = p.zoom ? 4 : 1.6;
  var ms = p.zoom ? 20 : 15;

  p.errs.forEach(function(err, k) {
    var vals = predicted(p.truth, err);
    var pts = samples.map(function(t) { return [t, vals[t - 1]]; });
    var m = markers[k];
    plot.append("path").datum(pts)
        .attr("fill", "none")
        .attr("stroke", modelColors[k])
        .attr("stroke-width", k === 8 ? blueW : lw)
        .attr("stroke-linejoin", "round")
        .attr("d", line);
    plot.append("g").selectAll("path")
        .data(pts.filter(function(d) { return d[1] != null && d[0] <= p.markTo; }))
        .join("path")
        .attr("transform", function(d) { return "translate(" + x(d[0]) + "," + y(d[1]) + ") rotate(" + m.rot + ")"; })
        .attr("d", d3.symbol().type(m.type).size(ms * m.k * (k === 8 && p.zoom ? 1.8 : 1)))
        .attr("fill", m.fill ? modelColors[k] : "none")
        .attr("stroke", m.fill ? "none" : modelColors[k])
        .attr("stroke-width", 1);
  });

  // measured speed
  var tpts = samples.filter(function(t) { return t <= p.markTo; })
      .map(function(t) { return [t, p.truth[t - 1]]; });
  plot.append("g").selectAll("path").data(tpts).join("path")
      .attr("transform", function(d) { return "translate(" + x(d[0]) + "," + y(d[1]) + ")"; })
      .attr("d", d3.symbol().type(d3.symbolStar).size(p.zoom ? 85 : 17))
      .attr("fill", p.zoom ? "none" : "#FF0000")
      .attr("stroke", "#FF0000")
      .attr("stroke-width", p.zoom ? 1.4 : 0.5);

  // dashed zoom box
  if (p.box) {
    g.append("rect")
        .attr("x", x(p.box[0])).attr("y", y(p.box[3]))
        .attr("width", x(p.box[1]) - x(p.box[0]))
        .attr("height", y(p.box[2]) - y(p.box[3]))
        .attr("fill", "none").attr("stroke", "#000")
        .attr("stroke-width", 2.6).attr("stroke-dasharray", "13,7");
  }

  // axes
  var gx = g.append("g").attr("transform", "translate(0," + p.yr[0] + ")")
      .call(d3.axisBottom(x).tickValues(p.xt).tickSize(-5).tickSizeOuter(0).tickPadding(2).tickFormat(d3.format("d")));
  var gy = g.append("g").attr("transform", "translate(" + p.xr[0] + ",0)")
      .call(d3.axisLeft(y).tickValues(p.yt).tickSize(-5).tickSizeOuter(0).tickPadding(3)
        .tickFormat(function(d, i) { return p.ytl ? p.ytl[i] : d3.format("d")(d); }));
  [gx, gy].forEach(function(a) {
    a.select(".domain").attr("stroke", "#333").attr("stroke-width", 1);
    a.selectAll(".tick line").attr("stroke", "#333");
    a.selectAll(".tick text").attr("font-size", 21).attr("font-family", null).attr("fill", "#262626");
    if (p.zoom) a.selectAll(".tick text").classed("sq", true);
  });
  if (!p.zoom) {
    gx.selectAll(".tick text").filter(function(d) { return d === 0; }).attr("dx", -9);
  }
});

// axis titles and captions
var labels = [
  {t: "风速/(m/s)", x: 18, y: 130, rot: true, fs: 21},
  {t: "风速/(m/s)", x: 18, y: 428, rot: true, fs: 21},
  {t: "风速/(m/s)", x: 723, y: 122, rot: true, fs: 20},
  {t: "风速/(m/s)", x: 723, y: 429, rot: true, fs: 20},
  {t: "采样点数", x: 346, y: 270, fs: 20},
  {t: "采样点数", x: 346, y: 562, fs: 20},
  {t: "采样点数", x: 885, y: 272, fs: 20},
  {t: "采样点数", x: 890, y: 569, fs: 20}
];
labels.forEach(function(l) {
  var t = svg.append("text").text(l.t)
      .attr("font-size", l.fs)
      .attr("text-anchor", "middle")
      .attr("dominant-baseline", "central");
  if (l.rot) t.attr("transform", "translate(" + l.x + "," + l.y + ") rotate(-90)");
  else t.attr("x", l.x).attr("y", l.y);
});

var captions = [
  {t: "(a)  120 m处各模型预测结果", x: 203, y: 296},
  {t: "(c)  280 m处各模型预测结果", x: 203, y: 589},
  {t: "(b)  图4a局部放大图", x: 778, y: 295},
  {t: "(d)  图4c局部放大图", x: 788, y: 591}
];
captions.forEach(function(c) {
  svg.append("text").text(c.t)
      .attr("x", c.x).attr("y", c.y)
      .attr("font-size", 20)
      .attr("dominant-baseline", "central")
      .style("white-space", "pre");
});

// legend
var legendPos = [
  {x0: 41, x1: 73, tx: 83, tw: 58, y: 620},
  {x0: 243, x1: 277, tx: 280, tw: 45, y: 620},
  {x0: 453, x1: 487, tx: 493, tw: 72, y: 620},
  {x0: 650, x1: 683, tx: 693, tw: 116, y: 620},
  {x0: 873, x1: 907, tx: 913, tw: 110, y: 620},
  {x0: 41, x1: 73, tx: 87, tw: 132, y: 643},
  {x0: 250, x1: 280, tx: 287, tw: 151, y: 643},
  {x0: 453, x1: 487, tx: 497, tw: 136, y: 645},
  {x0: 650, x1: 687, tx: 693, tw: 162, y: 643}
];
var leg = svg.append("g");
modelNames.forEach(function(name, k) {
  var lp = legendPos[k], m = markers[k];
  leg.append("line")
      .attr("x1", lp.x0).attr("x2", lp.x1).attr("y1", lp.y).attr("y2", lp.y)
      .attr("stroke", modelColors[k]).attr("stroke-width", k === 8 ? 4 : 1.6);
  leg.append("path")
      .attr("transform", "translate(" + ((lp.x0 + lp.x1) / 2) + "," + lp.y + ") rotate(" + m.rot + ")")
      .attr("d", d3.symbol().type(m.type).size(18 * m.k))
      .attr("fill", m.fill ? modelColors[k] : "none")
      .attr("stroke", m.fill ? "none" : modelColors[k]);
  leg.append("text").text(name)
      .attr("x", lp.tx).attr("y", lp.y + 7)
      .attr("font-size", 21)
      .attr("textLength", lp.tw).attr("lengthAdjust", "spacingAndGlyphs");
});
leg.append("path")
    .attr("transform", "translate(887,643)")
    .attr("d", d3.symbol().type(d3.symbolStar).size(55))
    .attr("fill", "none").attr("stroke", "#FF0000").attr("stroke-width", 1.3);
leg.append("text").text(trueName)
    .attr("x", 905).attr("y", 650).attr("font-size", 21);
</script>
</body>
</html>
